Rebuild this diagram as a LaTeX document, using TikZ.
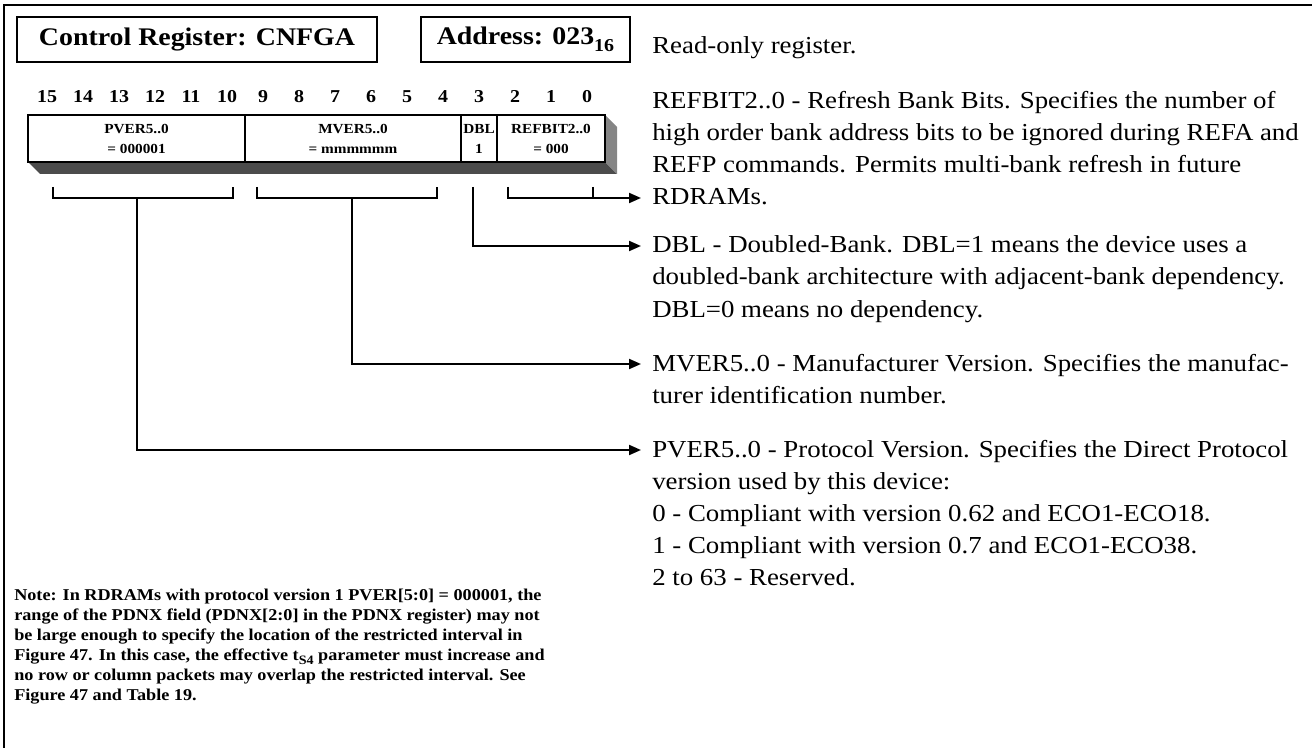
\documentclass[tikz,border=0pt]{standalone}
\usepackage{fontspec}
\setmainfont[FakeStretch=1.1]{Liberation Serif}
\usetikzlibrary{arrows.meta}
\begin{document}
\begin{tikzpicture}[x=0.75pt,y=-0.75pt]
\tikzset{
  frameline/.style={line width=1.5pt},
  hbox/.style={draw, line width=1.5pt, inner sep=0pt, font=\bfseries\fontsize{19}{22}\selectfont},
  bitnum/.style={font=\bfseries\fontsize{13.6}{15}\selectfont, inner sep=0pt},
  field/.style={draw, line width=1.2pt, inner sep=0pt, minimum height=35.25pt, align=center,
                font=\bfseries\fontsize{10.4}{15}\selectfont},
  desc/.style={anchor=base west, inner sep=0pt, font=\fontsize{18.3}{24}\selectfont},
  notetext/.style={anchor=base west, inner sep=0pt, font=\bfseries\fontsize{12.4}{15}\selectfont},
  conn/.style={line width=1.5pt},
  arr/.style={conn, -{Triangle[length=9pt,width=7.5pt]}},
}
\useasboundingbox (0,0) rectangle (1312,748);
% frame
\draw[frameline] (4,748) -- (4,5) -- (1312,5);
% header boxes
\node[hbox, minimum width=270pt, minimum height=33.75pt] (ctrl) at (197,39.5) {Control Register: CNFGA};
\node[hbox, minimum width=156.75pt, minimum height=33.75pt] (addr) at (525.5,39.5)
  {Address: 023\raisebox{-0.3em}{\fontsize{13.6}{13}\selectfont 16}};
% bit numbers
\foreach \i in {0,...,15} {
  \node[bitnum] (bit\i) at ({47+36*(15-\i)},97) {\i};
}
% shadow
\fill[black!70] (28,162) -- (40,174) -- (617,174) -- (605,162) -- cycle;
\fill[black!48] (605,115) -- (617,127) -- (617,174) -- (605,162) -- cycle;
% register fields
\node[field, minimum width=162.75pt] (pver) at (136.5,138.5) {PVER5..0\\= 000001};
\node[field, minimum width=162pt] (mver) at (353,138.5) {MVER5..0\\= mmmmmm};
\node[field, minimum width=27pt] (dbl) at (479,138.5) {DBL\\1};
\node[field, minimum width=81pt] (refbit) at (551,138.5) {REFBIT2..0\\= 000};
% bracket coordinates
\coordinate (pvL) at (53,187); \coordinate (pvR) at (233,187);
\coordinate (pvC) at (137,198);
\coordinate (mvL) at (257,187); \coordinate (mvR) at (437,187);
\coordinate (mvC) at (352,198);
\coordinate (dbT) at (473,187);
\coordinate (rfL) at (508,187); \coordinate (rfR) at (593,187);
% arrow tips
\coordinate (tipRF) at (641,198);
\coordinate (tipDB) at (641,246);
\coordinate (tipMV) at (641,364);
\coordinate (tipPV) at (641,450);
% brackets
\draw[conn] (pvL) -- (pvL |- pvC) -- (pvR |- pvC) -- (pvR);
\draw[conn] (mvL) -- (mvL |- mvC) -- (mvR |- mvC) -- (mvR);
\draw[conn] (rfR) -- (rfR |- tipRF);
\draw[arr] (rfL) -- (rfL |- tipRF) -- (tipRF);
\draw[arr] (dbT) |- (tipDB);
\draw[arr] (mvC) |- (tipMV);
\draw[arr] (pvC) |- (tipPV);
% descriptions
\node[desc] (ro) at (652,54) {Read-only register.};
\node[desc] (drf) at (652,109) {\begin{tabular}[t]{@{}l@{}}REFBIT2..0 - Refresh Bank Bits. Specifies the number of\\
high order bank address bits to be ignored during REFA and\\
REFP commands. Permits multi-bank refresh in future\\
RDRAMs.\end{tabular}};
\node[desc] (ddb) at (652,253) {\begin{tabular}[t]{@{}l@{}}DBL - Doubled-Bank. DBL=1 means the device uses a\\
doubled-bank architecture with adjacent-bank dependency.\\
DBL=0 means no dependency.\end{tabular}};
\node[desc] (dmv) at (652,371) {\begin{tabular}[t]{@{}l@{}}MVER5..0 - Manufacturer Version. Specifies the manufac-\\
turer identification number.\end{tabular}};
\node[desc] (dpv) at (652,457) {\begin{tabular}[t]{@{}l@{}}PVER5..0 - Protocol Version. Specifies the Direct Protocol\\
version used by this device:\\
0 - Compliant with version 0.62 and ECO1-ECO18.\\
1 - Compliant with version 0.7 and ECO1-ECO38.\\
2 to 63 - Reserved.\end{tabular}};
% note
\node[notetext] (note) at (14,600) {\begin{tabular}[t]{@{}l@{}}Note: In RDRAMs with protocol version 1 PVER[5:0] = 000001, the\\
range of the PDNX field (PDNX[2:0] in the PDNX register) may not\\
be large enough to specify the location of the restricted interval in\\
Figure 47. In this case, the effective t\raisebox{-0.25em}{\fontsize{9.6}{9}\selectfont S4} parameter must increase and\\
no row or column packets may overlap the restricted interval. See\\
Figure 47 and Table 19.\end{tabular}};
\end{tikzpicture}
\end{document}
